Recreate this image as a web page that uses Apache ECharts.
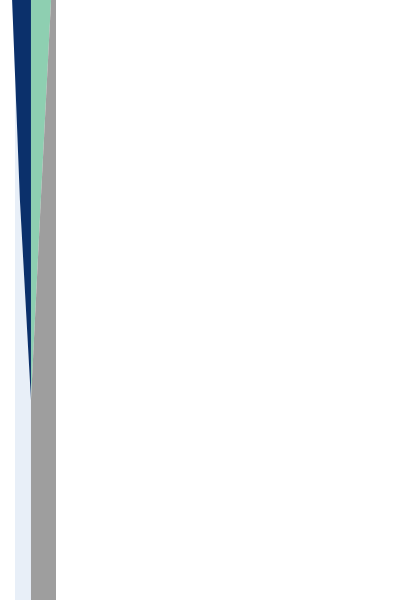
<!DOCTYPE html>
<html>
<head>
<meta charset="utf-8">
<script src="https://cdn.jsdelivr.net/npm/echarts@6/dist/echarts.min.js"></script>
<style>
  html, body { margin: 0; padding: 0; background: #ffffff; }
  #chart { width: 400px; height: 600px; }
</style>
</head>
<body>
<div id="chart"></div>
<script>
// Categories along the vertical axis (top to bottom)
const categories = ['1', '2', '3', '4'];
// Series values (share, percent)
const seriesA = [-7, 12, 39, 39];   // light blue
const seriesB = [46, 27, 0, 0];     // navy
const seriesC = [49, 24, 0, 0];     // mint
const seriesD = [12, 37, 61, 61];   // gray
const seriesNames = ['A', 'B', 'C', 'D'];
const seriesColors = ['#e8eff8', '#0b306b', '#8ecfb1', '#9e9e9e'];

const chart = echarts.init(document.getElementById('chart'), null, { renderer: 'canvas' });

const allData = [seriesA, seriesB, seriesC, seriesD];
const series = allData.map((d, i) => ({
  name: seriesNames[i],
  type: 'line',
  stack: 'total',
  stackStrategy: 'all',
  data: d,
  symbol: 'none',
  showSymbol: false,
  clip: false,
  lineStyle: { width: 0, color: seriesColors[i] },
  itemStyle: { color: seriesColors[i] },
  areaStyle: { color: seriesColors[i], opacity: 1 },
  emphasis: { disabled: true }
}));

chart.setOption({
  animation: false,
  backgroundColor: '#ffffff',
  grid: { left: 11.7, right: 344, top: 0, bottom: 0, containLabel: false },
  xAxis: {
    type: 'value',
    min: -8,
    max: 100,
    show: false,
    splitLine: { show: false }
  },
  yAxis: {
    type: 'category',
    data: categories,
    inverse: true,
    boundaryGap: false,
    show: false
  },
  series: series
});
</script>
</body>
</html>
